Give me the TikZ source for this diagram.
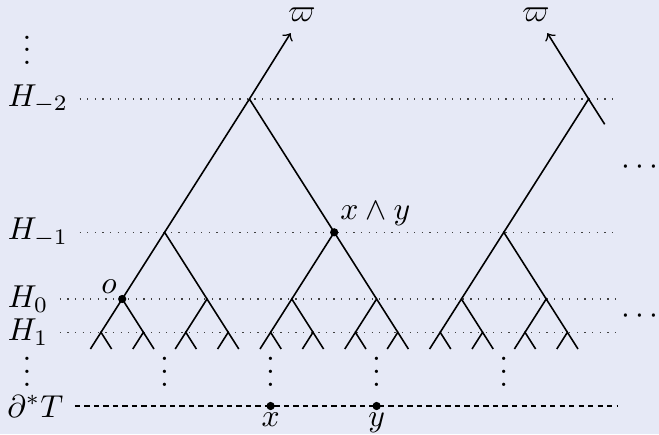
\documentclass[tikz,border=0pt]{standalone}
\usepackage{amsmath,amssymb}
\usepackage{xcolor}
\usepackage{tikz}
\usetikzlibrary{positioning,calc}
\definecolor{BgC}{HTML}{E6E9F6}

\begin{document}
\begin{tikzpicture}[x=0.0111cm,y=-0.0111cm,line width=.5pt,
  guide/.style={dotted,line width=.4pt,black!75},
  bdry/.style={dash pattern=on 1.7pt off 1.3pt,line width=.4pt},
  lvl/.style={anchor=west},
  vd/.style={anchor=base,inner sep=0pt,text height=9pt}]

\fill[BgC] (0,0) rectangle (659,434);
\useasboundingbox (0,0) rectangle (659,434);

% ---------- level labels ----------
\node[vd] (vtop) at (27,64.5) {$\vdots$};
\node[lvl] (Hm2) at (-3.5,99) {$H_{-2}$};
\node[lvl] (Hm1) at (-3.5,232.3) {$H_{-1}$};
\node[lvl] (H0) at (-3.5,299) {$H_0$};
\node[lvl] (H1) at (-3.5,332.3) {$H_1$};
\node[vd] (vbot) at (27,386) {$\vdots$};
\node[lvl] (bT) at (-4,406) {$\partial^*T$};
\coordinate (rim) at (617,0);

\foreach \h in {Hm2,Hm1,H0,H1}
  \draw[guide] (\h) -- (\h -| rim);
\draw[bdry] (bT) -- (bT -| rim);

% ---------- trees ----------
\foreach \k in {0,...,11}{
  \coordinate (c\k) at ({101+42.4*\k},332.3);
  \coordinate (cl\k) at ({90.4+42.4*\k},349);
  \coordinate (cr\k) at ({111.6+42.4*\k},349);
  \draw (cl\k) -- (c\k) -- (cr\k);}
\foreach \j in {0,...,5}{
  \pgfmathtruncatemacro\kl{2*\j}
  \pgfmathtruncatemacro\kr{2*\j+1}
  \coordinate (b\j) at ({122.2+84.8*\j},299);
  \draw (c\kl) -- (b\j) -- (c\kr);}
\foreach \i in {0,1,2}{
  \pgfmathtruncatemacro\jl{2*\i}
  \pgfmathtruncatemacro\jr{2*\i+1}
  \coordinate (a\i) at ({164.6+169.6*\i},232.3);
  \draw (b\jl) -- (a\i) -- (b\jr);}

\coordinate (r0) at (249.4,99);
\coordinate (r1) at (588.6,99);
\coordinate (s1) at (604.7,124.3);
\draw (a0) -- (r0) -- (a1);
\draw (a2) -- (r1) -- (s1);

\node (w0) at (302,15) {$\varpi$};
\node (w1) at (536,15) {$\varpi$};
\draw[->] (r0) -- (w0);
\draw[->] (r1) -- (w1);

% ---------- marked points ----------
\fill (b0) circle (1.3pt);
\node[above left,inner sep=1.5pt] (olab) at (b0) {$o$};
\fill (a1) circle (1.3pt);
\node[above right,inner sep=1.7pt] (wlab) at (a1) {$x\wedge y$};

\coordinate (x) at (270.6,406);
\coordinate (y) at (376.6,406);
\fill (x) circle (1.3pt);
\fill (y) circle (1.3pt);
\node[below,inner sep=2pt] (xlab) at (x) {$x$};
\node[below,inner sep=2pt] (ylab) at (y) {$y$};

\foreach \xx [count=\n] in {164.6,270.6,376.6,503.8}
  \node[vd] (vd\n) at (\xx,386) {$\vdots$};

\node[anchor=base] (more1) at (643,174) {$\cdots$};
\node[anchor=base] (more2) at (643,323) {$\cdots$};
\end{tikzpicture}
\end{document}
